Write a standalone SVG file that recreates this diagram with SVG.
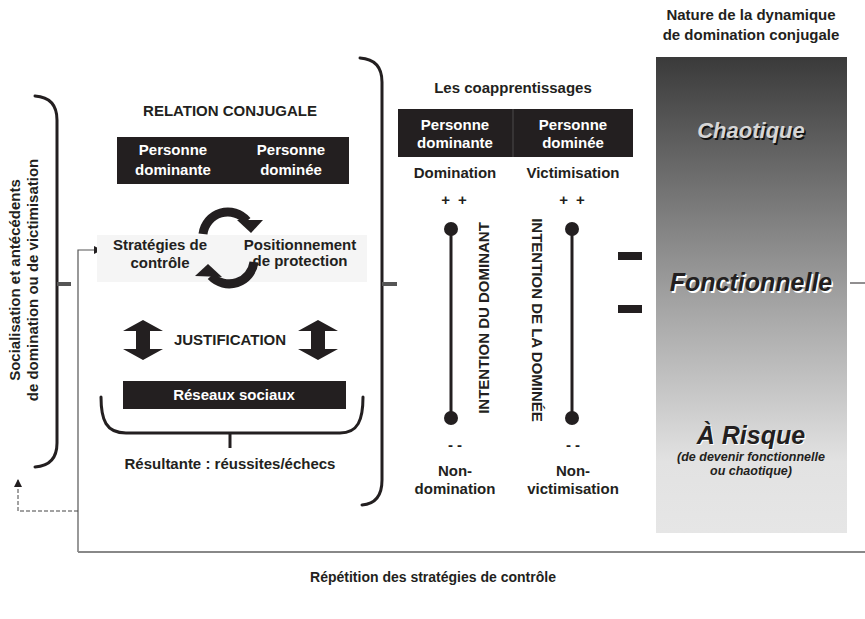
<svg xmlns="http://www.w3.org/2000/svg" width="865" height="619" viewBox="0 0 865 619">
<style>
text{font-family:"Liberation Sans",Arial,sans-serif;font-weight:bold;fill:#231f20;font-size:15px}
.c{text-anchor:middle}
.w{fill:#fff}
.brace{fill:none;stroke:#231f20;stroke-width:3;stroke-linecap:round}
.tick{stroke:#555;stroke-width:4}
.big{font-style:italic;text-anchor:middle}
</style>
<defs>
<linearGradient id="g" x1="0" y1="0" x2="0" y2="1">
<stop offset="0" stop-color="#3a3a3a"/>
<stop offset="0.5" stop-color="#a0a0a0"/>
<stop offset="0.85" stop-color="#e2e2e2"/>
<stop offset="1" stop-color="#e6e6e6"/>
</linearGradient>
<marker id="ah" markerWidth="8" markerHeight="8" refX="7" refY="4" orient="auto" markerUnits="userSpaceOnUse"><path d="M0,0 L8,4 L0,8 z" fill="#231f20"/></marker>
</defs>

<g id="connectors">
<path d="M78 552 L78 250 L101 250" fill="none" stroke="#555" stroke-width="1.2" marker-end="url(#ah)"/>
<path d="M78 552 L865 552" stroke="#888" stroke-width="2"/>
<path d="M78 511 L18 511 L18 480" fill="none" stroke="#444" stroke-width="1" stroke-dasharray="4,2" marker-end="url(#ah)"/>
<path d="M850 283 L865 283" stroke="#231f20" stroke-width="1"/>
</g>

<g id="socialisation">
<path class="brace" d="M35 96 C50 97 57 105 57 120 L57 443 C57 458 50 466 35 467"/>
<line class="tick" x1="57" y1="284" x2="71" y2="284"/>
<text class="c" transform="translate(20,280) rotate(-90)">Socialisation et antécédents</text>
<text class="c" transform="translate(38,280) rotate(-90)">de domination ou de victimisation</text>
</g>

<g id="relation">
<path class="brace" d="M360 58 C375 59 382 68 382 82 L382 480 C382 496 375 504 362 505"/>
<line class="tick" x1="382" y1="284" x2="397" y2="284"/>
<text class="c" x="230" y="116">RELATION CONJUGALE</text>
<rect x="117" y="137" width="232" height="47" fill="#231f20"/>
<text class="c w" x="173" y="155">Personne</text>
<text class="c w" x="173" y="175">dominante</text>
<text class="c w" x="291" y="155">Personne</text>
<text class="c w" x="291" y="175">dominée</text>
</g>

<g id="cycle">
<rect x="97" y="235" width="270" height="47" fill="#f5f5f5"/>
<path d="M203 234 A25 25 0 0 1 247 221" fill="none" stroke="#231f20" stroke-width="9"/>
<polygon points="237,220 263,220 251,233" fill="#231f20"/>
<path d="M254 262 A25 25 0 0 1 211 276" fill="none" stroke="#231f20" stroke-width="9"/>
<polygon points="222,277 195,276 208,264" fill="#231f20"/>
<text class="c" x="160" y="250">Stratégies de</text>
<text class="c" x="160" y="268">contrôle</text>
<text class="c" x="300" y="250">Positionnement</text>
<text class="c" x="300" y="266">de protection</text>
</g>

<g id="justification">
<polygon points="123,331 143,320 163,331 150,331 150,349 163,349 143,360 123,349 136,349 136,331" fill="#231f20"/>
<polygon points="298,331 318,320 338,331 325,331 325,349 338,349 318,360 298,349 311,349 311,331" fill="#231f20"/>
<text class="c" x="230" y="345">JUSTIFICATION</text>
</g>

<g id="reseaux">
<rect x="123" y="381" width="223" height="28" fill="#231f20"/>
<text class="c w" x="234" y="400">Réseaux sociaux</text>
<path class="brace" d="M101 397 C101 420 106 433 126 433 L340 433 C358 433 363 420 363 397"/>
<line x1="230" y1="433" x2="230" y2="448" stroke="#231f20" stroke-width="3"/>
<text class="c" x="230" y="469">Résultante : réussites/échecs</text>
</g>

<g id="coapprentissages">
<text class="c" x="513" y="93">Les coapprentissages</text>
<rect x="398" y="109" width="235" height="48" fill="#231f20"/>
<line x1="513" y1="109" x2="513" y2="157" stroke="#555" stroke-width="0.8"/>
<text class="c w" x="455" y="130">Personne</text>
<text class="c w" x="455" y="148">dominante</text>
<text class="c w" x="573" y="130">Personne</text>
<text class="c w" x="573" y="148">dominée</text>
<text class="c" x="455" y="178">Domination</text>
<text class="c" x="573" y="178">Victimisation</text>
</g>

<g id="axe-dominant">
<text class="c" x="455" y="205" font-size="16" letter-spacing="2">+ +</text>
<line x1="451" y1="229" x2="451" y2="418" stroke="#231f20" stroke-width="3"/>
<circle cx="451" cy="229" r="7" fill="#231f20"/>
<circle cx="451" cy="418" r="7" fill="#231f20"/>
<text class="c" transform="translate(489,318) rotate(-90)">INTENTION DU DOMINANT</text>
<text class="c" x="455" y="450">- -</text>
<text class="c" x="455" y="476">Non-</text>
<text class="c" x="455" y="494">domination</text>
</g>

<g id="axe-dominee">
<text class="c" x="573" y="205" font-size="16" letter-spacing="2">+ +</text>
<line x1="572" y1="229" x2="572" y2="418" stroke="#231f20" stroke-width="3"/>
<circle cx="572" cy="229" r="7" fill="#231f20"/>
<circle cx="572" cy="418" r="7" fill="#231f20"/>
<text class="c" transform="translate(532,320) rotate(90)">INTENTION DE LA DOMINÉE</text>
<text class="c" x="573" y="450">- -</text>
<text class="c" x="573" y="476">Non-</text>
<text class="c" x="573" y="494">victimisation</text>
</g>

<g id="egal">
<rect x="618" y="252" width="24" height="8" fill="#231f20"/>
<rect x="618" y="305" width="24" height="8" fill="#231f20"/>
</g>

<g id="nature">
<text class="c" x="751" y="20">Nature de la dynamique</text>
<text class="c" x="751" y="40">de domination conjugale</text>
<rect x="656" y="57" width="191" height="476" fill="url(#g)"/>
<text class="big" x="752.5" y="139.5" font-size="22" style="fill:#111;font-size:22px">Chaotique</text>
<text class="big" x="751" y="138" style="fill:#d6d6d6;font-size:22px">Chaotique</text>
<text class="big" x="752.5" y="292.5" style="fill:#fff;font-size:25px">Fonctionnelle</text>
<text class="big" x="751" y="291" style="fill:#231f20;font-size:25px">Fonctionnelle</text>
<text class="big" x="752" y="445" style="fill:#fff;font-size:25px">À Risque</text>
<text class="big" x="751" y="444" style="fill:#231f20;font-size:25px">À Risque</text>
<text class="big" x="751" y="461" style="font-size:12.5px">(de devenir fonctionnelle</text>
<text class="big" x="751" y="475" style="font-size:12.5px">ou chaotique)</text>
</g>

<g id="repetition">
<text class="c" x="433" y="582" style="font-size:14px">Répétition des stratégies de contrôle</text>
</g>
</svg>
